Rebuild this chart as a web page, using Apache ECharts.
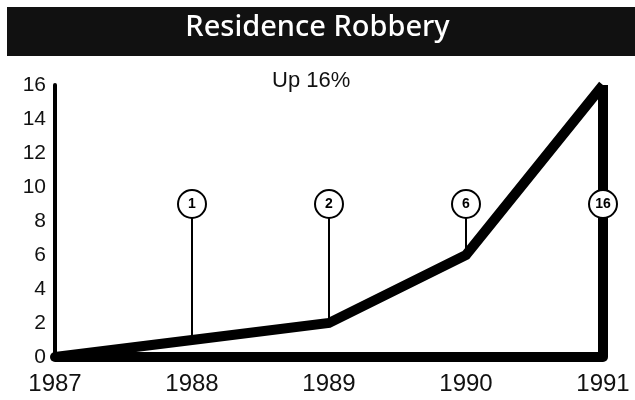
<!DOCTYPE html>
<html lang="en">
<head>
<meta charset="UTF-8">
<script src="https://cdn.jsdelivr.net/npm/echarts@6/dist/echarts.min.js"></script>
<style>
    html, body { margin: 0; padding: 0; background: #fff; }
    #chart { width: 635px; height: 400px; }
</style>
</head>
<body>
<div id="chart"></div>
<script>
    // data
    var years = ['1987', '1988', '1989', '1990', '1991'];
    var robberies = [0, 1, 2, 6, 16];
    var calloutYears = ['1988', '1989', '1990', '1991'];
    var calloutValues = [1, 2, 6, 16];
    var calloutLevel = 9;   // height of the circled numbers on the y scale

    var chart = echarts.init(document.getElementById('chart'));

    // thin leader lines from each circle down to the line (last one is the thick edge)
    var leaders = [];
    for (var i = 0; i < calloutYears.length - 1; i++) {
        leaders.push([
            { coord: [calloutYears[i], calloutLevel - 0.8] },
            { coord: [calloutYears[i], calloutValues[i]] }
        ]);
    }
    var last = years.length - 1;
    leaders.push([
        { coord: [years[last], 0], lineStyle: { width: 10 } },
        { coord: [years[last], robberies[last]] }
    ]);

    chart.setOption({
        backgroundColor: '#fff',
        animation: false,
        graphic: [
            { type: 'rect', left: 7, top: 7, shape: { width: 628, height: 49 }, style: { fill: '#111' } },
            {
                type: 'text', left: 'center', top: 13,
                style: { text: 'Residence Robbery', fill: '#fff', font: '500 29px "Noto Sans"' }
            },
            {
                type: 'text', left: 272, top: 70,
                style: { text: 'Up 16%', fill: '#111', font: '22px "Liberation Sans"' }
            }
        ],
        grid: { left: 55, right: 32, top: 85, bottom: 43 },
        xAxis: {
            type: 'category',
            data: years,
            boundaryGap: false,
            axisLine: { lineStyle: { color: '#000', width: 10 } },
            axisTick: { show: false },
            axisLabel: { color: '#111', fontSize: 24, fontFamily: 'Liberation Sans', margin: 15 }
        },
        yAxis: {
            type: 'value',
            min: 0, max: 16, interval: 2,
            splitLine: { show: false },
            axisLine: { show: true, lineStyle: { color: '#000', width: 4 } },
            axisTick: { show: false },
            axisLabel: { color: '#111', fontSize: 21, fontFamily: 'Liberation Sans', margin: 9 }
        },
        series: [
            {
                type: 'line',
                data: robberies,
                symbol: 'none',
                lineStyle: { color: '#000', width: 10, join: 'miter' },
                z: 3,
                markLine: {
                    silent: true,
                    symbol: 'none',
                    label: { show: false },
                    lineStyle: { color: '#000', width: 2, type: 'solid' },
                    data: leaders
                }
            },
            {
                type: 'scatter',
                data: calloutYears.map(function (y, i) { return [y, calloutLevel, calloutValues[i]]; }),
                symbol: 'circle',
                symbolSize: 28,
                itemStyle: { color: '#fff', borderColor: '#000', borderWidth: 2, opacity: 1 },
                label: {
                    show: true, position: 'inside',
                    formatter: function (p) { return p.value[2]; },
                    color: '#000', fontSize: 14, fontWeight: 'bold', fontFamily: 'Liberation Sans'
                },
                z: 5
            }
        ]
    });
</script>
</body>
</html>
